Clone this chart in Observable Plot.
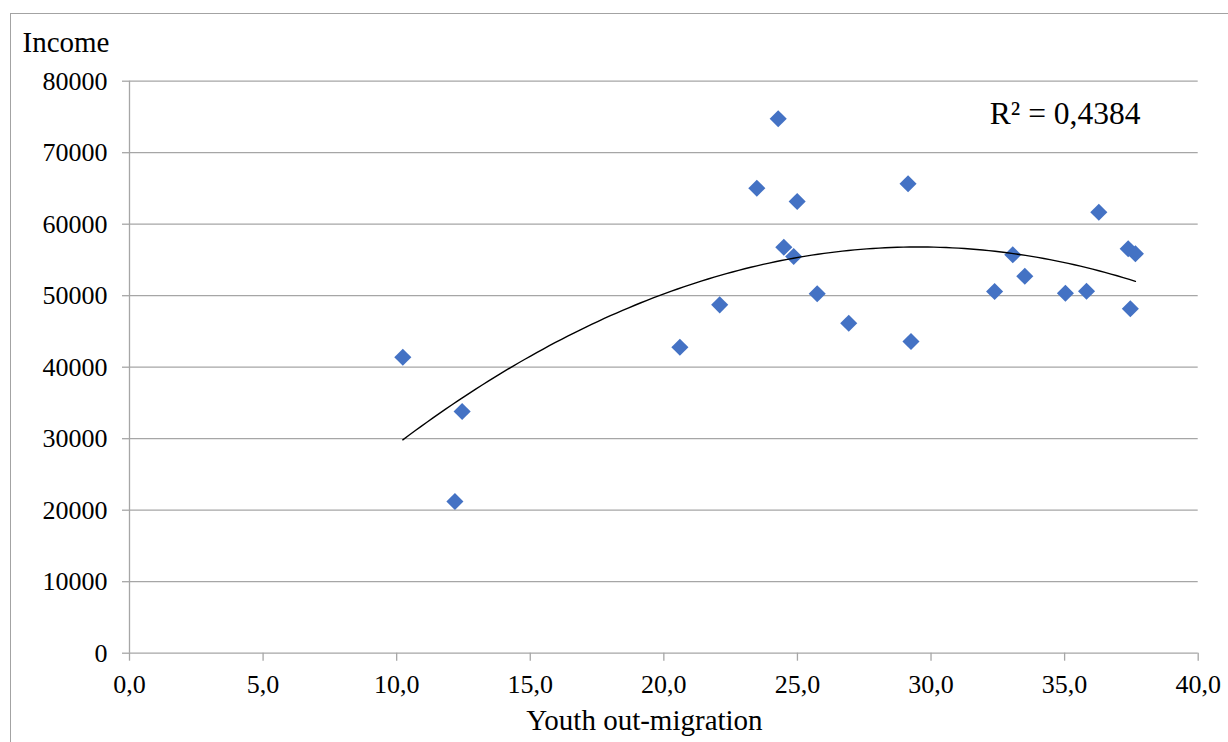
<!DOCTYPE html>
<html><head><meta charset="utf-8">
<script src="https://cdn.jsdelivr.net/npm/d3@7"></script>
<script src="https://cdn.jsdelivr.net/npm/@observablehq/plot@0.6"></script>
<style>
html,body{margin:0;padding:0;background:#fff;}
#wrap{position:relative;width:1228px;height:742px;overflow:hidden;}
#border{position:absolute;left:10px;top:13px;right:-5px;bottom:-5px;border-top:1.5px solid #a3a3a3;border-left:1.5px solid #a3a3a3;pointer-events:none;}
</style></head><body>
<div id="wrap"><div id="chart"></div><div id="border"></div></div>
<script>
const youthOutMigration = [10.23, 12.45, 12.18, 20.60, 22.09, 23.48, 24.28, 24.99, 24.49, 24.86, 25.74, 26.92, 29.14, 29.25, 32.38, 33.06, 33.51, 35.03, 35.82, 36.28, 37.38, 37.65, 37.46];
const income = [41400, 33800, 21220, 42800, 48720, 65030, 74740, 63170, 56780, 55480, 50270, 46150, 65650, 43590, 50590, 55720, 52730, 50350, 50630, 61680, 56560, 55860, 48170];
const xTicks = [0, 5, 10, 15, 20, 25, 30, 35, 40];
const yTicks = [0, 10000, 20000, 30000, 40000, 50000, 60000, 70000, 80000];
const r2Label = "R² = 0,4384";
const xTitle = "Youth out-migration";
const yTitle = "Income";

const points = youthOutMigration.map((x, i) => ({x, y: income[i]}));

// second-order polynomial least-squares trend line (computed from the data)
function polyFit2(xs, ys) {
  const S = [0,0,0,0,0], T = [0,0,0];
  xs.forEach((x, i) => {
    for (let k = 0; k < 5; k++) S[k] += Math.pow(x, k);
    for (let k = 0; k < 3; k++) T[k] += Math.pow(x, k) * ys[i];
  });
  const A = [[S[4],S[3],S[2],T[2]],[S[3],S[2],S[1],T[1]],[S[2],S[1],S[0],T[0]]];
  for (let i = 0; i < 3; i++) {
    for (let j = i + 1; j < 3; j++) {
      const f = A[j][i] / A[i][i];
      for (let k = i; k < 4; k++) A[j][k] -= f * A[i][k];
    }
  }
  const sol = [0,0,0];
  for (let i = 2; i >= 0; i--) {
    let s = A[i][3];
    for (let k = i + 1; k < 3; k++) s -= A[i][k] * sol[k];
    sol[i] = s / A[i][i];
  }
  return sol; // a, b, c
}
const [qa, qb, qc] = polyFit2(youthOutMigration, income);
const xMin = d3.min(youthOutMigration), xMax = d3.max(youthOutMigration);
const trend = d3.range(121).map(i => {
  const x = xMin + (xMax - xMin) * i / 120;
  return {x, y: qa * x * x + qb * x + qc};
});

const gray = "#a6a6a6";
const chart = Plot.plot({
  width: 1228, height: 742,
  marginLeft: 129, marginRight: 30.3, marginTop: 80.7, marginBottom: 89.3,
  style: {fontFamily: "'Liberation Serif','Times New Roman',serif", fontSize: "26px", color: "black", background: "white", overflow: "visible"},
  x: {domain: [0, 40]},
  y: {domain: [0, 80000]},
  marks: [
    Plot.ruleY(yTicks, {stroke: gray, strokeWidth: 1.3}),
    Plot.ruleX([0], {stroke: gray, strokeWidth: 1.3}),
    Plot.axisY({ticks: yTicks, tickSize: 7, tickPadding: 15, tickFormat: d => String(d), stroke: gray, strokeWidth: 1.3, color: "black", label: null}),
    Plot.axisX({ticks: xTicks, tickSize: 8, tickPadding: 13.5, tickFormat: d => d.toFixed(1).replace(".", ","), stroke: gray, strokeWidth: 1.3, color: "black", label: null}),
    Plot.dot(points, {x: "x", y: "y", symbol: "diamond2", r: 7.7, fill: "#4472C4", stroke: "none"}),
    Plot.line(trend, {x: "x", y: "y", stroke: "black", strokeWidth: 1.4}),
    Plot.text([yTitle], {text: d => d, frameAnchor: "top-left", textAnchor: "start", lineAnchor: "bottom", dx: -107, dy: -28.7, fontSize: 29, fill: "black"}),
    Plot.text([xTitle], {text: d => d, frameAnchor: "bottom", textAnchor: "middle", lineAnchor: "bottom", dx: -19.4, dy: 76.3, fontSize: 29, fill: "black"}),
    Plot.text([r2Label], {text: d => d, frameAnchor: "top-left", textAnchor: "start", lineAnchor: "bottom", dx: 860.3, dy: 42.6, fontSize: 31.5, fill: "black"})
  ]
});
document.getElementById("chart").appendChild(chart);
</script>
</body></html>
